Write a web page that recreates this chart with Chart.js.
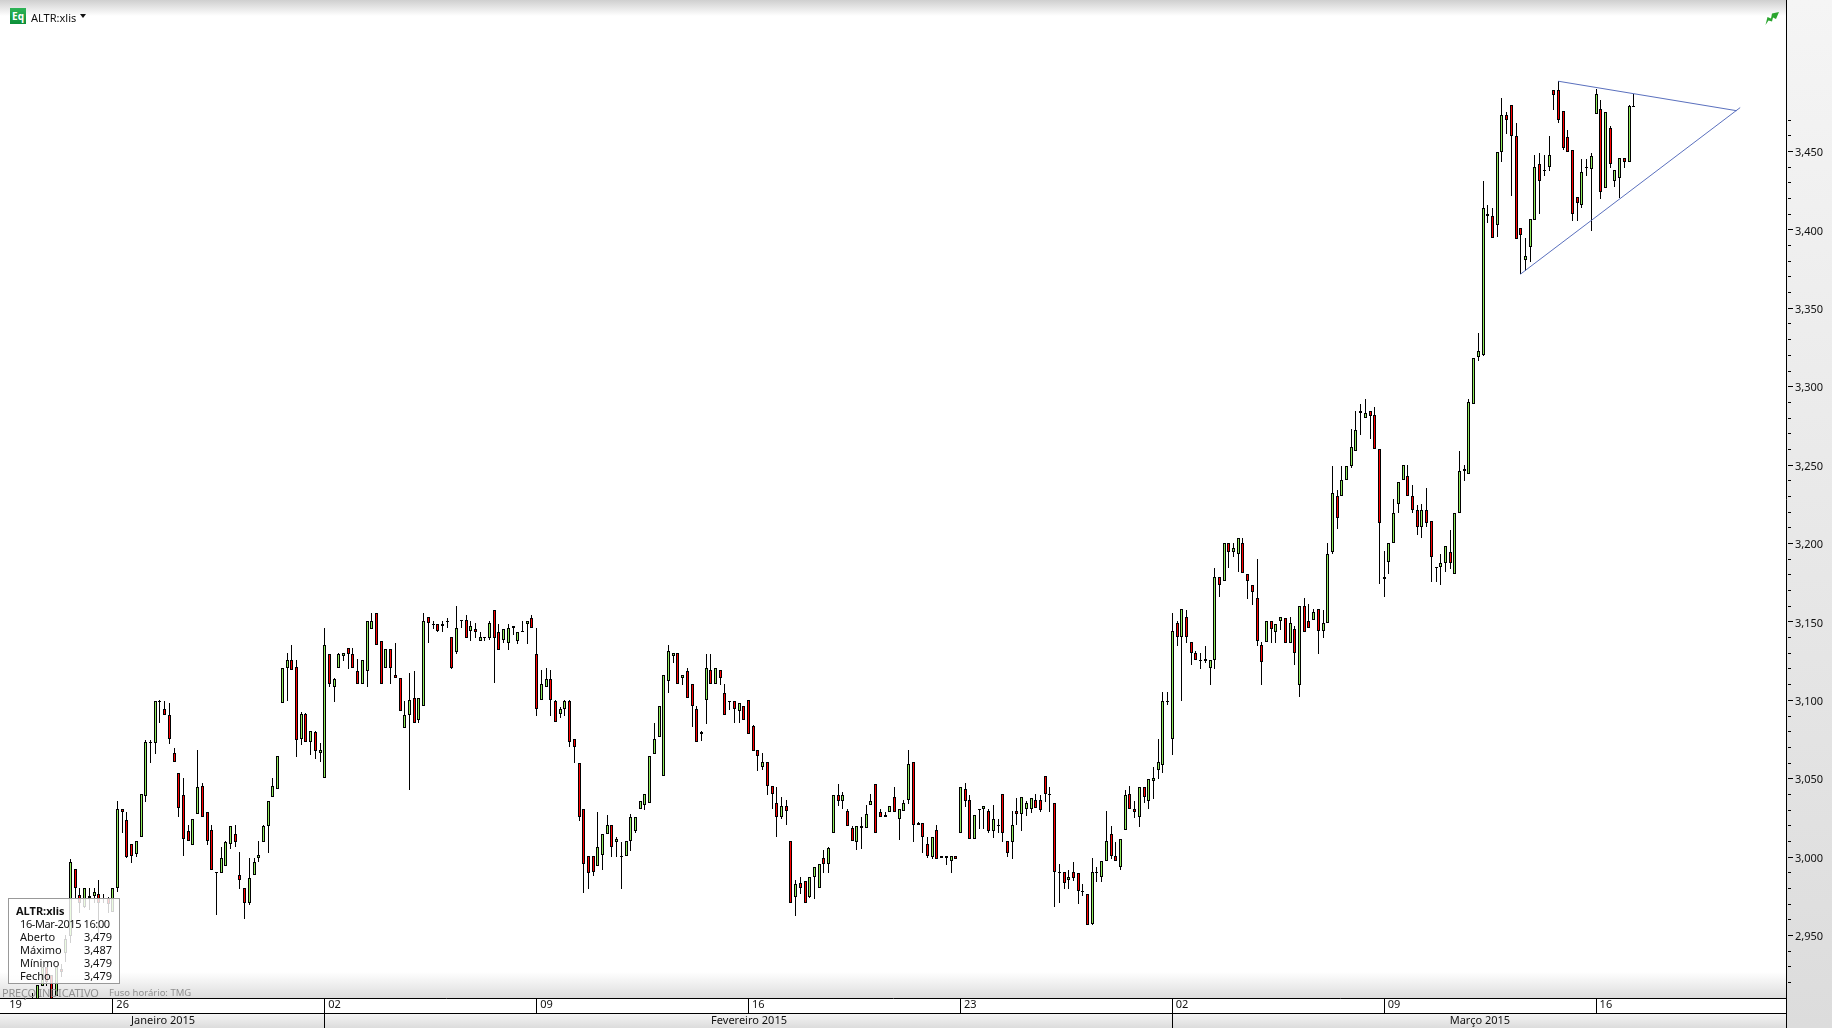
<!DOCTYPE html>
<html lang="pt">
<head>
<meta charset="utf-8">
<title>ALTR:xlis</title>
<script src="https://cdn.jsdelivr.net/npm/chart.js@4"></script>
<style>
html,body{margin:0;padding:0;background:#fff;overflow:hidden}
#wrap{position:relative;width:1832px;height:1028px;font:11px "Noto Sans",sans-serif;color:#111}
canvas{position:absolute;left:0;top:0}
.abs{position:absolute;white-space:nowrap;line-height:13px}
#eq{position:absolute;left:10px;top:8px;width:16px;height:16px;background:linear-gradient(#2fb457,#0b8f38);color:#fff;font:bold 10px/16px "Noto Sans",sans-serif;text-align:center}
#tri{position:absolute;left:80px;top:14px;width:0;height:0;border-left:3.5px solid transparent;border-right:3.5px solid transparent;border-top:4px solid #111}
#tip{position:absolute;left:8px;top:898px;width:110px;height:84px;border:1px solid #999;background:rgba(255,255,255,.82)}
#foot{position:absolute;left:2px;top:986px;color:#909090;white-space:nowrap;line-height:13px;letter-spacing:-.2px}
</style>
</head>
<body>
<div id="wrap">
<canvas id="c" width="1832" height="1028"></canvas>
<div id="eq">Eq</div>
<div class="abs" style="left:31px;top:11px">ALTR:xlis</div>
<div id="tri"></div>
<svg style="position:absolute;left:1765px;top:12px" width="14" height="13" viewBox="0 0 14 13"><polygon points="0.5,13 2.5,5 6,6.5 7,1.5 14,0 11,7 8,5.5 7,9.5 3.5,8.5" fill="#2aa52e"/></svg>
<div id="foot">PREÇO INDICATIVO<span style="position:absolute;left:107px;top:0;font-size:9.5px;letter-spacing:0">Fuso horário: TMG</span></div>
<div id="tip">
<div class="abs" style="left:7px;top:5px;font-weight:bold">ALTR:xlis</div>
<div class="abs" style="left:11px;top:18px;letter-spacing:-.4px">16-Mar-2015 16:00</div>
<div class="abs" style="left:11px;top:31px">Aberto</div><div class="abs" style="right:7px;top:31px">3,479</div>
<div class="abs" style="left:11px;top:44px">Máximo</div><div class="abs" style="right:7px;top:44px">3,487</div>
<div class="abs" style="left:11px;top:57px">Mínimo</div><div class="abs" style="right:7px;top:57px">3,479</div>
<div class="abs" style="left:11px;top:70px">Fecho</div><div class="abs" style="right:7px;top:70px">3,479</div>
</div>
</div>
<script>
const opens=[
2905,2905,2918.3,2930,2925.2,2912,2929,2939,2950.2,2992.5,
2976.2,2968.7,2974,2975.5,2976.6,2974,2974,2965.5,2980.4,3030.8,
3023.8,3008.7,3002.5,3012.9,3039.5,3073.8,3072.9,3099.9,3094.8,3091,
3066.5,3053.8,3039.7,3016.8,3007.8,3027.6,3045.5,3028.9,3017.4,2990.6,
2990,2994.5,3008.5,3014.9,2988.7,2980.4,2970.9,2988.7,2999.6,3009.8,
3020,3038.5,3043.6,3098.4,3120.7,3125.8,3121.4,3075.5,3091.4,3073.5,
3079.9,3066.5,3050.6,3129.7,3109,3120.7,3128.4,3133.5,3129.7,3118.8,
3110.5,3118.8,3145.6,3155.8,3138.4,3120.7,3132.9,3116.3,3114.4,3082.5,
3090.8,3101.6,3087.6,3096.5,3153.3,3149,3148.8,3148.8,3150.7,3140.5,
3131.4,3151.4,3151.4,3144.3,3145.6,3138.4,3140.5,3140.3,3157.7,3143.7,
3139,3137.1,3146.2,3138.4,3144.3,3148.8,3152.6,3129.7,3100.3,3108.6,
3113.7,3099.7,3091.4,3094.6,3099.7,3075.5,3060.6,3030.8,3000.8,3000.8,
2994.4,3001.4,3014.8,3020.6,3009.7,3000.8,3000.8,3010.4,3016.7,3030.8,
3033.4,3034.6,3065.9,3076.7,3051.9,3112.5,3128.4,3130.3,3114.4,3118.8,
3110.5,3094.6,3078.7,3100.3,3119.5,3110.5,3119.5,3104.8,3099.7,3099.7,
3093.3,3096.5,3100.3,3083.8,3068.5,3057.6,3060.8,3045.5,3034.6,3025.7,
3032.7,3010.4,2974.7,2983.6,2984.9,2974.7,2987.4,2980.4,2999.6,2995.7,
3015.5,3039.8,3035.9,3029.5,3018.7,3009.8,3020,3018.7,3033.4,3046.8,
3028.9,3027,3028.9,3038.5,3024.4,3029.5,3036.6,3060.8,3020.6,3021.9,
3008.5,3000.2,3017.4,3000.8,3000.8,2997.7,3000.8,3015.5,3043.6,3036.6,
3011.7,3030.8,3030.8,3029.5,3016.8,3020.6,3040.4,3010.4,3009.8,3029.5,
3027.6,3030.8,3030.8,3036.5,3036.5,3051.9,3040.4,3034.6,2990.6,2990.6,
2985.5,2990.6,2990,2978.5,2976.6,2957.5,2990.6,2987.4,2997.6,3014.9,
3000.8,2993.8,3017.4,3040.4,3030.8,3025.7,3044.8,3035.9,3048.7,3055.7,
3058.9,3100.1,3075.4,3149.4,3140.5,3153.3,3137.3,3130.3,3125.8,3126.5,
3121.2,3125.8,3178.7,3176.1,3200.4,3194.6,3193.4,3200.4,3180.6,3173.6,
3165.4,3135.4,3137.3,3150.7,3143.7,3150.7,3152.6,3136.7,3145.6,3110.3,
3160.3,3150.7,3151.4,3158.4,3144.3,3149.4,3194.7,3230.4,3230.4,3240.6,
3249.5,3259.1,3285,3280.2,3285,3282.1,3260.4,3177.5,3188.3,3200.4,
3225.3,3240.6,3243.2,3230.4,3221.5,3210.6,3221.5,3214.5,3185.1,3185.1,
3187.7,3194.7,3180.7,3219.6,3246.3,3244.4,3289.1,3319.1,3320.8,3410.3,
3409,3403.2,3449.8,3473.4,3479.8,3460,3401.3,3380.9,3389.2,3406.4,
3442.2,3438.3,3440.2,3489.3,3489.3,3476,3459.4,3451.1,3421.1,3416,
3440.2,3439,3474,3477.2,3426.8,3465.1,3431.3,3433.2,3446,3443.4,3479.2];
const highs=[
2913.5,2918.8,2930.5,2930,2925.2,2930,2932,2950.7,2999.1,2992.5,
2980.4,2980.4,2980.4,2980.4,2985.7,2976.6,2975,2980.4,3036.1,3030.8,
3028.9,3008.7,3010.4,3040.4,3075,3075,3100,3100.5,3099.9,3098.4,
3069.7,3053.8,3050.6,3020.8,3024.4,3068.6,3047.4,3028.9,3020.6,2990.6,
3006.6,3010.4,3020,3020.8,3003.4,2980.4,2999.8,2999.6,3010.4,3020.6,
3035.9,3050.8,3064.6,3120.7,3130.3,3135.6,3126,3092.7,3092,3080.6,
3080.6,3072.9,3146.2,3129.7,3114.4,3130.3,3130.3,3133.5,3133.5,3126.7,
3125.8,3150.7,3156,3155.8,3138.4,3132.9,3132.9,3136.7,3114.4,3099.7,
3117.5,3118.8,3101.6,3155.8,3153.3,3150.7,3148.8,3150.7,3152.6,3140.5,
3160.5,3151.4,3154.5,3150.7,3149.4,3143.7,3140.5,3150.7,3157.7,3148.8,
3145.6,3148.8,3147.5,3143.7,3150.7,3150.7,3154.5,3146.2,3119.7,3120.7,
3119.7,3100.3,3095.9,3100.3,3100.3,3075.5,3060.6,3030.8,3000.8,3000.8,
3028.9,3014.8,3027.2,3020.6,3012.9,3010.1,3010.4,3027.8,3025.7,3035.9,
3040.4,3064.6,3085.7,3096.5,3116.3,3135.6,3130.3,3130.3,3116.3,3120.7,
3110.5,3096.5,3080.6,3129.9,3129.9,3120.7,3119.5,3110.5,3099.7,3099.7,
3098.4,3096.5,3100.3,3084.4,3068.5,3066.5,3060.8,3045.5,3044.9,3038.5,
3036.6,3010.4,2985.5,2987.4,2984.9,2987.4,2993.8,2995.7,3004.9,3006.6,
3039.8,3046.8,3041.7,3030.8,3020,3020,3025.7,3033.4,3040.4,3046.8,
3030.8,3028.9,3032.7,3044.9,3030.8,3036.6,3068.5,3060.8,3022.5,3021.9,
3013,3013,3020.6,3000.8,3000.8,3000.8,3000.8,3044.9,3047.4,3039.8,
3027,3030.8,3032.7,3030.8,3033.4,3024.4,3040.4,3010.4,3029.5,3037.8,
3038.5,3035.9,3037.8,3040.4,3040.2,3051.9,3044.8,3034.6,2995.7,2990.6,
2991.9,2997,2990,2983,2976.6,2999.6,2993.8,2997.6,3029.5,3020,
3009.9,3011.7,3042.9,3045.5,3036.3,3044.8,3044.8,3049.9,3057.6,3075.7,
3105.4,3105.4,3155.8,3150.7,3158.4,3157.9,3137.3,3131.6,3130.3,3135,
3125.8,3185,3178.7,3200.4,3200.4,3200.4,3203.6,3203.6,3180.6,3173.6,
3190.2,3137.3,3150.7,3150.7,3148.8,3153.3,3152.6,3153.3,3147.5,3160.3,
3165.4,3161.8,3158.4,3158.4,3157.7,3200.4,3249.5,3234.2,3249.5,3249.5,
3273.1,3284.6,3289.3,3292.3,3285,3287.2,3260.4,3195.3,3200.4,3228.5,
3239.3,3250.2,3250.2,3237.4,3224.7,3225.3,3235.5,3214.5,3185.1,3193.6,
3198.5,3208.9,3219.6,3259.3,3250.4,3292.3,3318.8,3334.4,3431.5,3416.2,
3414.1,3449.8,3484.3,3475.3,3479.8,3468.3,3401.3,3395,3407.1,3447.9,
3449.2,3447.9,3460,3489.3,3495.1,3476,3463.8,3451.1,3421.1,3445.3,
3445.3,3449.2,3490.2,3483,3475.3,3466.4,3438.3,3446,3446,3479.8,3486.8];
const lows=[
2900,2900,2918.3,2918,2905,2912,2924,2933.6,2945.3,2974,
2964.5,2968,2966.6,2971,2949.6,2970.9,2964.5,2965.5,2978.3,3015.5,
2999.6,2996.8,3000.6,3012.9,3035.7,3060.6,3066.1,3085.7,3091.2,3072.5,
3060.8,3025.7,3001.3,3010.4,3007.8,3027.6,3025.7,3008.1,2991.9,2963.6,
2990,2994.5,3005.7,3006.6,2980.2,2960.6,2969.6,2988.7,2997,3009.8,
3003.2,3038.5,3043.6,3098.4,3100.1,3119.4,3064.4,3071.6,3073.5,3065.7,
3063.1,3061.2,3050.6,3109,3099.5,3120.7,3125.6,3120.5,3120.7,3110.5,
3110.5,3109,3145.6,3135.4,3110.5,3120.7,3110.5,3114.4,3093.3,3082.5,
3043,3085.7,3085.7,3096.5,3136.7,3145.6,3143.7,3143.7,3146.2,3120,
3129.7,3146.2,3140.3,3138.4,3140.3,3138.4,3138.4,3139,3111.6,3132.6,
3137.1,3132.6,3142.2,3136.5,3144.3,3136.5,3146.2,3090.5,3100.3,3108.6,
3090.5,3086.3,3088.8,3090.5,3070.4,3060.6,3023.6,2977.6,2980.2,2988.5,
2994.4,2992.1,3014.8,3000.6,3000.6,2980.2,3000.8,3004.4,3015.5,3030.8,
3030.4,3034.6,3065.9,3076.7,3051.9,3105.2,3124.2,3110.5,3110.3,3101.6,
3083.5,3073.6,3074.6,3085.5,3110.5,3110.5,3110.3,3090.8,3094.4,3086.1,
3086.1,3087.6,3078.7,3067.8,3055.5,3055.9,3040.2,3031.2,3013.4,3024.4,
3020.6,2970.9,2962.6,2976.6,2970.9,2974,2973.8,2980.4,2990.4,2990.4,
3015.5,3033.2,3030.8,3020,3010.4,3004.7,3005.7,3018.7,3033.4,3015.5,
3025.7,3025.7,3028.9,3028.9,3011.5,3029.5,3034.4,3010.2,3020.6,3003.2,
2999.6,2999.1,2998.9,2999.6,2995.5,2990.4,2998.9,3015.5,3032.5,3011.7,
3011.7,3018.5,3018.5,3015.5,3012.7,3015.5,3010.2,3000.6,2999.3,3020.6,
3017.2,3026.8,3028.7,3031.4,3029.3,3035.7,3029.3,2968.7,2971.3,2979.8,
2979.8,2985.3,2970.6,2975.7,2956.8,2956.8,2984.7,2984.7,2997.6,2998.9,
2997.6,2991.9,3017.4,3030.8,3025.5,3019.8,3034.6,3031.2,3037.6,3050.4,
3054.2,3097.6,3065.7,3135.2,3100.1,3136.7,3123.1,3125.8,3120.5,3124.4,
3110.3,3120.5,3166.4,3176.1,3184.9,3191.9,3182.3,3181.2,3164.7,3161.3,
3135.2,3110.3,3137.3,3137.1,3137.1,3145.2,3136.7,3136.7,3123.1,3102.7,
3143.7,3146.2,3151.4,3130.1,3140.3,3149.4,3193.4,3209.4,3230.4,3240.6,
3248.3,3259.1,3269.3,3280.2,3267,3260.4,3174.3,3166.4,3181.1,3200.4,
3220,3240.6,3230.4,3220,3205.9,3204,3210.6,3176,3176,3174.1,
3182.4,3184.3,3180.7,3219.6,3240.4,3244.4,3289.1,3317,3320,3405,
3395,3396,3443.9,3461.5,3422.2,3394.3,3372,3374.1,3380,3406.4,
3410.7,3434.9,3438.1,3476.8,3468.3,3451.1,3449.8,3406.2,3406.2,3414.1,
3434.9,3399.8,3474,3420.3,3426.8,3440,3427.9,3420.5,3440,3443.4,3479.2];
const closes=[
2908,2918.8,2930.5,2920.9,2905,2930,2927.3,2947.9,2997,2980.4,
2971.3,2980.4,2975.7,2977.9,2970.9,2974,2970.4,2980.4,3030.8,3029.3,
3000.6,3001.3,3010.4,3040.4,3073.8,3073.8,3099.9,3099.9,3091.2,3075.5,
3060.8,3031.4,3011.7,3010.4,3024.4,3044.8,3025.7,3010.4,2991.9,2990,
2999.6,3009.8,3020,3009.8,2985.5,2970.9,2986.8,2997,3001.5,3020,
3035.9,3045.5,3064.6,3120.7,3125.8,3119.4,3075,3091.4,3073.5,3080.6,
3067.8,3068.4,3135.4,3110.5,3113.7,3129.7,3130.3,3129.7,3120.7,3110.5,
3125.8,3150.7,3150.7,3135.4,3110.5,3132.9,3120.7,3114.4,3093.3,3090.8,
3100.3,3085.7,3101.6,3150.7,3149.4,3149,3144.3,3147.5,3150.7,3120.7,
3146.2,3150.8,3140.3,3147.5,3143.7,3140.5,3140.5,3149.4,3140.3,3132.6,
3145.6,3146.2,3147.5,3143.7,3144.3,3150.7,3146.2,3094.6,3110.5,3113.7,
3100.3,3086.3,3094.6,3099.7,3073.5,3070.4,3025.7,2995.7,2990,2990.6,
3006.5,3014.8,3020.8,3006.5,3011.6,3000.8,3010.4,3025.7,3025.7,3035.9,
3040.4,3064.6,3075.5,3096.5,3116.3,3131.6,3130.3,3110.5,3116.3,3101.6,
3096.5,3073.6,3079.9,3120.7,3110.5,3120.7,3114.4,3090.8,3099.7,3094.6,
3098.4,3087.6,3078.7,3067.8,3064.6,3060.8,3045.5,3040.4,3025.7,3032.7,
3029.5,2970.9,2983,2980.4,2970.9,2987.4,2993.8,2995.7,2995.7,3006,
3039.8,3035.9,3039.8,3020,3010.4,3020,3018.7,3027.6,3035.9,3015.5,
3025.7,3025.7,3032.7,3028.9,3030.8,3034.6,3059.5,3020.6,3021.9,3013,
3000.8,3013,2998.9,2999.6,2999.6,3000.8,2998.9,3044.9,3036.3,3011.7,
3027,3030.8,3032.7,3016.8,3024.4,3020.6,3015.5,3002.7,3020.6,3027.6,
3038.5,3034.6,3037.8,3031.4,3030.6,3040.4,3040.4,2990.6,2990.6,2983.6,
2987.4,2986.8,2978.5,2978.5,2956.8,2990.6,2990.6,2997.6,3010.4,3000.8,
2997.6,3011.7,3039.7,3030.8,3028.9,3044.8,3038.5,3049.9,3050.6,3060.8,
3099.7,3100.1,3144.3,3140.5,3158.4,3140.5,3130.3,3125.8,3125.8,3125.6,
3125.8,3178.7,3174,3200.4,3194.6,3197.2,3203.6,3181.2,3176.1,3169.1,
3138.4,3124.6,3150.7,3145.6,3148.8,3153.3,3136.7,3149.4,3130.3,3160.3,
3143.7,3146.2,3156.5,3144.3,3149.4,3193.4,3232.3,3216.4,3240.6,3249.5,
3261.7,3272.5,3283.3,3283.3,3281.4,3260.4,3213.2,3178.7,3200.4,3219.6,
3239.3,3250.2,3230.4,3221.5,3210.6,3221.5,3213.2,3191.5,3185.1,3187.7,
3198.5,3187.7,3219.6,3246.3,3247.6,3290.4,3318.8,3323.3,3414.1,3409,
3395,3449.8,3473.4,3470.2,3460,3394.3,3396.9,3383.5,3407.1,3440.2,
3431.3,3438.3,3447.9,3486.2,3470.2,3452.8,3449.8,3410.3,3417.3,3437,
3440.2,3447.3,3486.8,3424.3,3475.3,3442.2,3438.3,3446,3443.4,3479.2,3479.2];

const weekTickIndex=[-5.73,17,62,107,152,197,242,287,332];
const weekLabels=['19','26','02','09','16','23','02','09','16'];
const monthBoundaryIndex=[62,242];
const monthLabels=['Janeiro 2015','Fevereiro 2015','Março 2015'];
const priceTicks=[];
for(let p=2920;p<=3470;p+=10)priceTicks.push(p);
const resistanceX=[324.07,361.96];
const resistanceY=[3495.1,3476.3];
const supportX=[316,362.7];
const supportY=[3372,3478.3];

const UP='#8FEB5C',DOWN='#FF0000',TREND='#5A70BE';
const FONT='"Noto Sans",sans-serif';
const idx=opens.map((_,i)=>i);

const chromePlugin={
  id:'chrome',
  beforeDraw(chart){
    const c=chart.ctx,W=1832,H=1028,R=1786,B=998;
    c.save();
    c.fillStyle='#fff';c.fillRect(0,0,W,H);
    let g=c.createLinearGradient(0,0,0,H);
    g.addColorStop(0,'#f5f5f5');g.addColorStop(1,'#dcdcdc');
    c.fillStyle=g;c.fillRect(R,0,W-R,H);
    g=c.createLinearGradient(0,0,0,16);
    g.addColorStop(0,'#cfcfcf');g.addColorStop(1,'#ffffff');
    c.fillStyle=g;c.fillRect(0,0,R,16);
    g=c.createLinearGradient(0,972,0,B);
    g.addColorStop(0,'#ffffff');g.addColorStop(1,'#dddddd');
    c.fillStyle=g;c.fillRect(0,972,R,B-972);
    g=c.createLinearGradient(0,1014,0,H);
    g.addColorStop(0,'#f4f4f4');g.addColorStop(1,'#dcdcdc');
    c.fillStyle=g;c.fillRect(0,1014,R,H-1014);
    c.restore();
  },
  beforeDatasetsDraw(chart){
    const c=chart.ctx,x=chart.scales.x,y=chart.scales.y;
    c.save();
    c.fillStyle='#000';
    c.fillRect(0,1013,1786,1);
    c.fillRect(1786,998,1,30);
    weekTickIndex.forEach((v,i)=>{ if(i>0) c.fillRect(Math.round(x.getPixelForValue(v)),998,1,15); });
    monthBoundaryIndex.forEach(v=>c.fillRect(Math.round(x.getPixelForValue(v)),1013,1,15));
    priceTicks.forEach(v=>{
      const py=Math.round(y.getPixelForValue(v))-1;
      c.fillRect(1788,py,v%50===0?5:3,1);
    });
    c.font='11px '+FONT;c.textAlign='center';c.textBaseline='middle';c.fillStyle='#111';
    const edges=[0,x.getPixelForValue(monthBoundaryIndex[0]),x.getPixelForValue(monthBoundaryIndex[1]),1786];
    monthLabels.forEach((t,i)=>c.fillText(t,(edges[i]+edges[i+1])/2+1,1021));
    c.restore();
  },
  afterDatasetsUpdate(chart){
    chart.data.datasets.forEach((d,i)=>{
      if(d.type==='line')return;
      chart.getDatasetMeta(i).data.forEach(el=>{
        el.x=Math.round(el.x)+.5;
        const t=Math.round(Math.min(el.y,el.base));
        let b=Math.round(Math.max(el.y,el.base));
        if(b-t<1)b=t+1;
        el.y=t;el.base=b;el.height=b-t;
      });
    });
  }
};

new Chart(document.getElementById('c'),{
  data:{
    datasets:[
      {type:'line',data:resistanceX.map((v,i)=>({x:v,y:resistanceY[i]})),borderColor:TREND,borderWidth:1,pointRadius:0,order:1},
      {type:'line',data:supportX.map((v,i)=>({x:v,y:supportY[i]})),borderColor:TREND,borderWidth:1,pointRadius:0,order:1},
      {type:'bar',grouped:false,order:2,barThickness:3,borderWidth:1,borderColor:'#000',borderSkipped:false,inflateAmount:0,
       backgroundColor:idx.map(i=>closes[i]>=opens[i]?UP:DOWN),
       data:idx.map(i=>({x:i,y:[Math.min(opens[i],closes[i]),Math.max(opens[i],closes[i])]}))},
      {type:'bar',grouped:false,order:3,barThickness:1,borderWidth:0,inflateAmount:0,backgroundColor:'#000',
       data:idx.map(i=>({x:i,y:[lows[i],highs[i]]}))}
    ]
  },
  plugins:[chromePlugin],
  options:{
    responsive:false,animation:false,devicePixelRatio:1,
    layout:{padding:0},
    events:[],
    plugins:{legend:{display:false},tooltip:{enabled:false},title:{display:false}},
    scales:{
      x:{type:'linear',position:'bottom',offset:false,min:-6.859,max:372.43,
        grid:{display:false,drawTicks:false},border:{display:true,color:'#000',width:1},
        afterBuildTicks(s){s.ticks=weekTickIndex.map(v=>({value:v}));},
        afterFit(s){s.height=30;s.paddingLeft=0;s.paddingRight=0;},
        ticks:{autoSkip:false,maxRotation:0,minRotation:0,align:'start',labelOffset:4,padding:0,color:'#111',
          font:{family:FONT,size:11},callback:(v,i)=>weekLabels[i]}
      },
      y:{type:'linear',position:'right',min:2910.5,max:3546.9,
        grid:{display:false,drawTicks:false},border:{display:true,color:'#000',width:1},
        afterBuildTicks(s){s.ticks=priceTicks.map(v=>({value:v}));},
        afterFit(s){s.width=46;s.paddingTop=0;s.paddingBottom=0;},
        ticks:{autoSkip:false,padding:9,labelOffset:1,color:'#111',font:{family:FONT,size:11},
          callback:v=>v%50===0?v.toLocaleString('en-US'):''}
      }
    }
  }
});
</script>
</body>
</html>
